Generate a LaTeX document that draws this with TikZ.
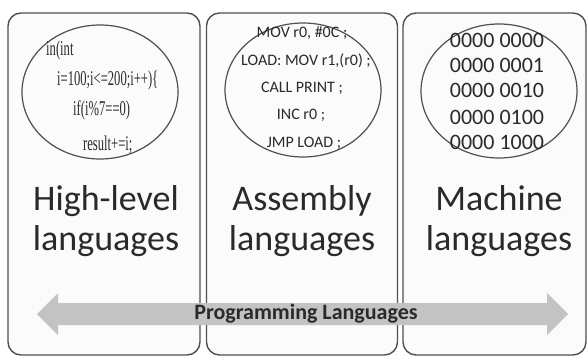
\documentclass[tikz,border=0pt]{standalone}
\usepackage{fontspec}
\setmainfont{Carlito}
\newfontfamily\condserif{Liberation Serif}
\usetikzlibrary{shapes.geometric}
\definecolor{border}{HTML}{505050}
\definecolor{panelfill}{HTML}{FBFBFB}
\definecolor{arrowgray}{HTML}{C3C3C3}
\definecolor{txt}{HTML}{2A2A2A}
\tikzset{
  panel/.style={draw=border, line width=1.4pt, fill=panelfill, rounded corners=13pt,
    minimum height=342pt, inner sep=0pt},
  circ/.style={ellipse, draw=border, line width=1.2pt, minimum width=156pt, minimum height=134pt, inner sep=0pt},
  codeline/.style={text=txt, inner sep=0pt, anchor=west, font=\condserif\fontsize{21}{21}\selectfont},
  asmline/.style={text=txt, inner sep=0pt, font=\fontsize{16}{16}\selectfont},
  binline/.style={text=txt, inner sep=0pt, font=\fontsize{22}{22}\selectfont},
  biglabel/.style={text=txt, inner sep=0pt, align=center, font=\fontsize{36}{40}\selectfont}
}
\begin{document}
\begin{tikzpicture}[x=1pt,y=-1pt]
\useasboundingbox (0,0) rectangle (588,358);
\fill[white] (0,0) rectangle (588,358);
% panels
\node[panel, minimum width=192pt] (p1) at (104,184) {};
\node[panel, minimum width=191pt] (p2) at (302,184) {};
\node[panel, minimum width=183pt] (p3) at (494.5,184) {};
% ellipses
\node[circ] (e1) at (100,92) {};
\node[circ] (e2) at (303,90) {};
\node[circ] (e3) at (499,91) {};
% high-level code
\node[codeline] (c1) at (46,50) {\scalebox{0.6}[1]{in(int}};
\node[codeline] (c2) at (57,80) {\scalebox{0.6}[1]{i=100;i<=200;i++)\{}};
\node[codeline] (c3) at (73,110) {\scalebox{0.6}[1]{if(i\%7==0)}};
\node[codeline] (c4) at (83,145) {\scalebox{0.6}[1]{result+=i;}};
% assembly code
\node[asmline] (a1) at (302,33) {MOV r0, \#0C ;};
\node[asmline] (a2) at (306,61) {LOAD: MOV r1,(r0) ;};
\node[asmline] (a3) at (302,88) {CALL PRINT ;};
\node[asmline] (a4) at (301,115) {INC r0 ;};
\node[asmline] (a5) at (304,143) {JMP LOAD ;};
% machine code
\node[binline] (b1) at (497,40) {0000 0000};
\node[binline] (b2) at (497,65) {0000 0001};
\node[binline] (b3) at (497,90) {0000 0010};
\node[binline] (b4) at (497,117) {0000 0100};
\node[binline] (b5) at (497,142) {0000 1000};
% big labels
\node[biglabel] (l1) at (106,221) {High-level\\languages};
\node[biglabel] (l2) at (302,221) {Assembly\\languages};
\node[biglabel] (l3) at (499,221) {Machine\\languages};
% arrow
\fill[arrowgray] (37,314) -- (58,293) -- (58,303) -- (547,303) -- (547,293) -- (568,314)
  -- (547,335) -- (547,325) -- (58,325) -- (58,335) -- cycle;
\node[text=txt, inner sep=0pt, font=\bfseries\fontsize{22}{22}\selectfont] (pl) at (306,314) {Programming Languages};
\end{tikzpicture}
\end{document}
